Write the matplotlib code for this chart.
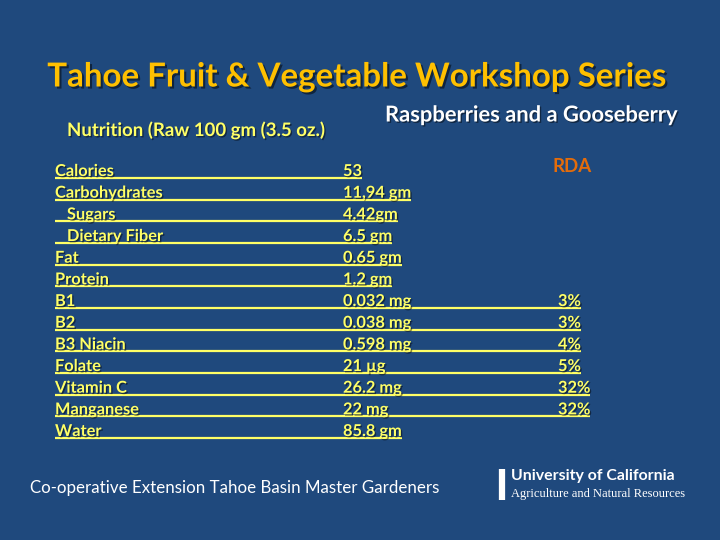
import matplotlib
matplotlib.use("Agg")
import matplotlib.pyplot as plt
import matplotlib.patheffects as pe

# slide content
title = "Tahoe Fruit & Vegetable Workshop Series"
subtitle = "Raspberries and a Gooseberry"
nutrition_head = "Nutrition (Raw 100 gm (3.5 oz.)"
rda_head = "RDA"
footer = "Co-operative Extension Tahoe Basin Master Gardeners"
logo_top = "University of California"
logo_bottom = "Agriculture and Natural Resources"

names = ["Calories", "Carbohydrates", "   Sugars", "   Dietary Fiber", "Fat",
         "Protein", "B1", "B2", "B3 Niacin", "Folate", "Vitamin C",
         "Manganese", "Water"]
amounts = ["53", "11,94 gm", "4.42gm", "6.5 gm", "0.65 gm", "1.2 gm",
           "0.032 mg", "0.038 mg", "0.598 mg", "21 µg", "26.2 mg", "22 mg",
           "85.8 gm"]
rda = ["", "", "", "", "", "", "3%", "3%", "4%", "5%", "32%", "32%", ""]

bg = "#1F497D"
yellow = "#FFFF66"
gold = "#FFC000"
orange = "#E46C0A"

fig = plt.figure(figsize=(7.2, 5.4), dpi=100)
fig.patch.set_facecolor(bg)
ax = fig.add_axes([0, 0, 1, 1])
ax.set_xlim(0, 720)
ax.set_ylim(540, 0)
ax.axis("off")

font = "Lato"
shadow = [pe.withSimplePatchShadow(offset=(1, -1), shadow_rgbFace="black", alpha=0.45)]

ax.text(356, 77, title, color=gold, fontsize=23.8, fontweight="bold", family=font,
        ha="center", va="center",
        path_effects=[pe.withSimplePatchShadow(offset=(1.5, -1.5), shadow_rgbFace="black", alpha=0.5)])
ax.text(385, 115, subtitle, color="white", fontsize=15.8, fontweight="bold", family=font,
        ha="left", va="center", path_effects=shadow)
ax.text(67, 130, nutrition_head, color=yellow, fontsize=13.4, fontweight="bold", family=font,
        ha="left", va="center", path_effects=shadow)
ax.text(553, 166, rda_head, color=orange, fontsize=13.4, fontweight="bold", family=font,
        ha="left", va="center")

fig.canvas.draw()
r = fig.canvas.get_renderer()
inv = ax.transData.inverted()

fs = 11.8
x0, x_amt, x_rda = 55, 343, 558
base0, step = 176, 21.67
for i in range(len(names)):
    yb = base0 + i * step
    ax.text(x0, yb, names[i], color=yellow, fontsize=fs, fontweight="bold", family=font,
            ha="left", va="baseline", path_effects=shadow)
    last = ax.text(x_amt, yb, amounts[i], color=yellow, fontsize=fs, fontweight="bold",
                   family=font, ha="left", va="baseline", path_effects=shadow)
    if rda[i]:
        last = ax.text(x_rda, yb, rda[i], color=yellow, fontsize=fs, fontweight="bold",
                       family=font, ha="left", va="baseline", path_effects=shadow)
    bb = last.get_window_extent(renderer=r)
    x_end = inv.transform((bb.x1, bb.y0))[0]
    ax.plot([x0, x_end], [yb + 2, yb + 2], color=yellow, lw=1.6, solid_capstyle="butt",
            path_effects=shadow)

ax.text(30, 488, footer, color="white", fontsize=12.2, family=font, ha="left", va="center")

# logo
ax.plot([502, 502], [469, 500], color="white", lw=4.5, solid_capstyle="butt")
ax.text(511, 476, logo_top, color="white", fontsize=11.4, fontweight="bold", family=font,
        ha="left", va="center")
ax.text(511, 494, logo_bottom, color="white", fontsize=9, family="Liberation Serif",
        ha="left", va="center")

fig.savefig("out.png", dpi=100, facecolor=bg)
